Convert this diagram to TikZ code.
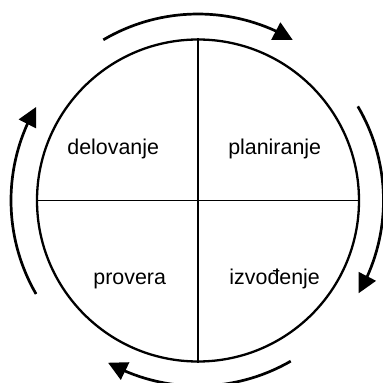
\documentclass[tikz,border=0pt]{standalone}
\usepackage{fontspec}
\setmainfont{Liberation Sans}
\usetikzlibrary{arrows.meta,bending}
\begin{document}
\begin{tikzpicture}[x=1bp,y=1bp,
  ring/.style={circle,draw,line width=2.3bp,minimum size=322bp,inner sep=0pt},
  divider/.style={line width=1.5bp},
  cycarrow/.style={line width=2.7bp,-{Triangle[length=19bp,width=19bp,flex]}},
  lbl/.style={anchor=base,inner sep=0pt,font=\fontsize{21.4bp}{25bp}\selectfont}]
\useasboundingbox (0,0) rectangle (383,383);
\node[ring] (c) at (198,182.5) {};
\draw[divider] (c.north) -- (c.south);
\draw[divider] (c.west) -- (c.east);
\node[lbl] (del) at (113.2,228.7) {delovanje};
\node[lbl] (pla) at (274.7,228.7) {planiranje};
\node[lbl] (pro) at (129.7,98.7) {provera};
\node[lbl] (izv) at (274.7,98.7) {izvođenje};
\draw[cycarrow] ([shift={(120.5:186.5bp)}]c.center) arc[start angle=120.5,end angle=59.5,radius=186.5bp];
\draw[cycarrow] ([shift={(30.5:185.5bp)}]c.center) arc[start angle=30.5,end angle=-30,radius=185.5bp];
\draw[cycarrow] ([shift={(-60:185.5bp)}]c.center) arc[start angle=-60,end angle=-119,radius=185.5bp];
\draw[cycarrow] ([shift={(210:187bp)}]c.center) arc[start angle=210,end angle=150,radius=187bp];
\end{tikzpicture}
\end{document}
